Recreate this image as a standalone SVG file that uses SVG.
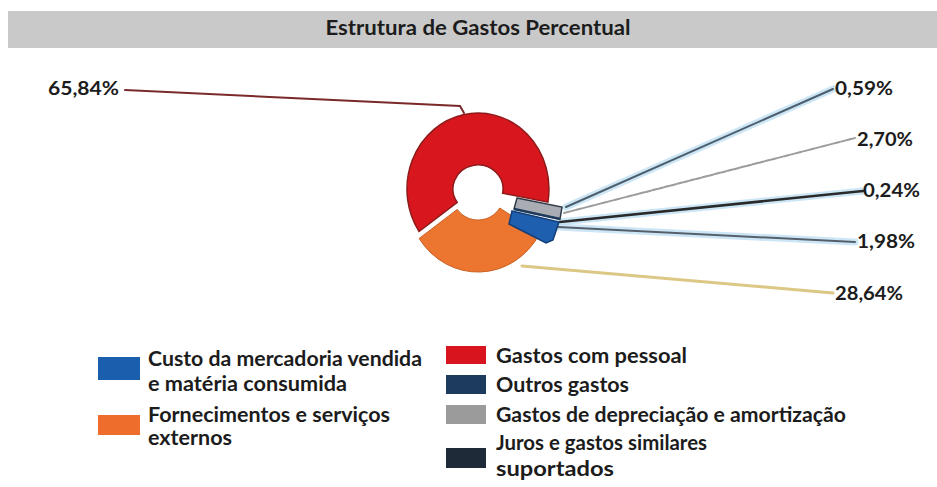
<svg xmlns="http://www.w3.org/2000/svg" width="937" height="487" viewBox="0 0 937 487">
<style>
.t{font-family:Lato,"Liberation Sans",sans-serif;font-weight:700;fill:#1c1c1c}
.pct{font-size:19px}
.lg{font-size:20px}
.ld{fill:none;stroke-linecap:round}
.glow{fill:none;stroke:#bfe0f4;stroke-width:7;stroke-linecap:round;opacity:0.8}
</style>
<rect x="0" y="0" width="937" height="487" fill="#ffffff"/>
<g id="title">
<rect x="8" y="11" width="929" height="37" fill="#c9c9c9"/>
<text class="t" x="478" y="35" font-size="20" text-anchor="middle" textLength="305" lengthAdjust="spacingAndGlyphs">Estrutura de Gastos Percentual</text>
</g>
<g id="connectors">
<path class="ld" d="M125 90 L460 106 L464 113" stroke="#7a2a2a" stroke-width="2"/>
<path class="glow" d="M566 207 L833 89"/>
<path class="ld" d="M566 207 L833 89" stroke="#4d5e6c" stroke-width="2"/>
<path class="ld" d="M564 213 L855 138" stroke="#9c9c9c" stroke-width="2" stroke-dasharray="5 1.5"/>
<path class="glow" d="M560 222 L863 191" opacity="0.5"/>
<path class="ld" d="M560 222 L863 191" stroke="#2a2a2a" stroke-width="2.5"/>
<path class="glow" d="M558 227 L855 242"/>
<path class="ld" d="M558 227 L855 242" stroke="#56606c" stroke-width="2"/>
<path class="ld" d="M522 266 L833 293" stroke="#dcc784" stroke-width="3"/>
</g>
<g id="slice-red">
<path d="M419.1 231.5 A71 76 0 1 1 547.9 202.2 L502.6 193.2 A25 24 0 1 0 457.3 202.4 Z" fill="#d8161e" stroke="#8e1b1b" stroke-width="1.5"/>
</g>
<g id="slice-orange">
<path d="M539.5 234 A71 76 0 0 1 419.1 238.5 L457.3 209.4 A25 24 0 0 0 499.7 208 Z" fill="#ec7630" stroke="#c85f22" stroke-width="1"/>
</g>
<g id="slice-gray">
<polygon points="517,198 562,207 560,219 514,209" fill="#a9acb2" stroke="#2e3a48" stroke-width="1.5"/>
</g>
<g id="slice-outros">
<line x1="514" y1="209" x2="560" y2="219" stroke="#1d3b5c" stroke-width="2.5"/>
</g>
<g id="slice-blue">
<polygon points="512,211 559,222 553,240 546,243 509,224" fill="#1f5fb0" stroke="#143e78" stroke-width="1.5"/>
</g>
<g id="labels">
<text class="t pct" x="48" y="95" textLength="71" lengthAdjust="spacingAndGlyphs">65,84%</text>
<text class="t pct" x="835" y="95" textLength="58" lengthAdjust="spacingAndGlyphs">0,59%</text>
<text class="t pct" x="857" y="146" textLength="56" lengthAdjust="spacingAndGlyphs">2,70%</text>
<text class="t pct" x="863" y="197" textLength="57" lengthAdjust="spacingAndGlyphs">0,24%</text>
<text class="t pct" x="857" y="248" textLength="58" lengthAdjust="spacingAndGlyphs">1,98%</text>
<text class="t pct" x="835" y="300" textLength="68" lengthAdjust="spacingAndGlyphs">28,64%</text>
</g>
<g id="legend-custo">
<rect x="98" y="357" width="42" height="23" fill="#1a5eae"/>
<text class="t lg" x="148" y="366" textLength="274" lengthAdjust="spacingAndGlyphs">Custo da mercadoria vendida</text>
<text class="t lg" x="148" y="391" textLength="199" lengthAdjust="spacingAndGlyphs">e matéria consumida</text>
</g>
<g id="legend-fornecimentos">
<rect x="98" y="415" width="42" height="20" fill="#ee6c2c"/>
<text class="t lg" x="148" y="422" textLength="242" lengthAdjust="spacingAndGlyphs">Fornecimentos e serviços</text>
<text class="t lg" x="148" y="445" textLength="84" lengthAdjust="spacingAndGlyphs">externos</text>
</g>
<g id="legend-pessoal">
<rect x="446" y="346" width="40" height="18" fill="#d8141e"/>
<text class="t lg" x="496" y="363" textLength="191" lengthAdjust="spacingAndGlyphs">Gastos com pessoal</text>
</g>
<g id="legend-outros">
<rect x="446" y="375" width="40" height="19" fill="#1d3b5c"/>
<text class="t lg" x="496" y="392" textLength="133" lengthAdjust="spacingAndGlyphs">Outros gastos</text>
</g>
<g id="legend-depreciacao">
<rect x="446" y="405" width="40" height="19" fill="#9b9b9b"/>
<text class="t lg" x="496" y="422" textLength="350" lengthAdjust="spacingAndGlyphs">Gastos de depreciação e amortização</text>
</g>
<g id="legend-juros">
<rect x="446" y="448" width="40" height="20" fill="#1e2a37"/>
<text class="t lg" x="496" y="450" textLength="211" lengthAdjust="spacingAndGlyphs">Juros e gastos similares</text>
<text class="t lg" x="496" y="476" textLength="118" lengthAdjust="spacingAndGlyphs">suportados</text>
</g>
</svg>
